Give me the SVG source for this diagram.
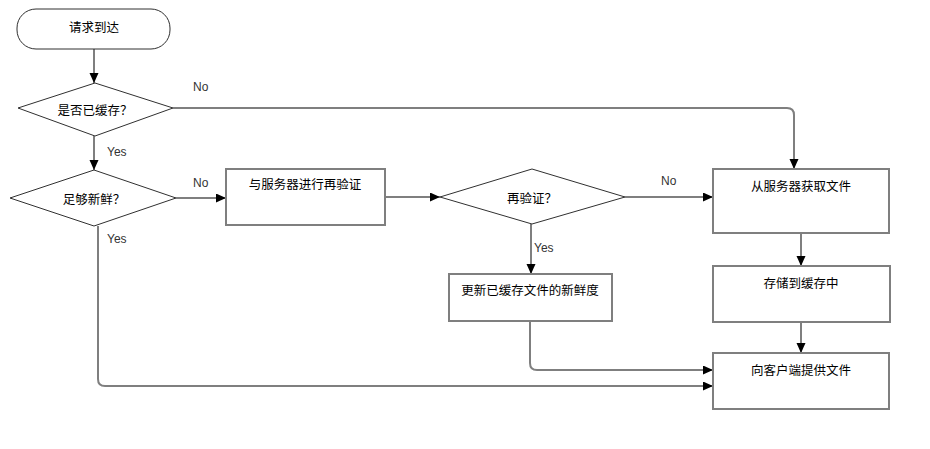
<svg xmlns="http://www.w3.org/2000/svg" width="930" height="449" viewBox="0 0 930 449">
<style>
.box{fill:#fff;stroke:#7f7f7f;stroke-width:2}
.dia{fill:#fff;stroke:#303030;stroke-width:1}
.t{font-family:"Noto Sans CJK SC","Noto Sans CJK TC",sans-serif;font-size:12.5px;fill:#000;text-anchor:middle;dominant-baseline:central}
.lbl{font-family:"Liberation Sans",Arial,sans-serif;font-size:12px;fill:#333}
.c{fill:none;stroke:#7f7f7f;stroke-width:2;marker-end:url(#ah)}
.cn{fill:none;stroke:#7f7f7f;stroke-width:2}
</style>
<defs>
<marker id="ah" markerUnits="userSpaceOnUse" markerWidth="11" markerHeight="10" refX="10" refY="4.5" orient="auto">
<path d="M0,0 L10,4.5 L0,9 z" fill="#000"/>
</marker>
</defs>
<rect width="930" height="449" fill="#fff"/>
<g id="connectors">
<path class="c" d="M94,49 V83"/>
<path class="c" d="M94,136 V170"/>
<path class="c" d="M173,108 H787 Q794,108 794,115 V169"/>
<path class="c" d="M176,198 H226"/>
<path class="c" d="M98,226 V379 Q98,386 105,386 H713"/>
<path class="c" d="M385,197 H440"/>
<path class="c" d="M625,197 H713"/>
<path class="c" d="M531,224 V274"/>
<path class="c" d="M530,321 V363 Q530,370 537,370 H713"/>
<path class="c" d="M801,233 V266"/>
<path class="c" d="M801,322 V353"/>
<text class="lbl" x="193" y="91">No</text>
<text class="lbl" x="107" y="156">Yes</text>
<text class="lbl" x="193" y="187">No</text>
<text class="lbl" x="107" y="243">Yes</text>
<text class="lbl" x="661" y="185">No</text>
<text class="lbl" x="534" y="252">Yes</text>
</g>
<g id="start">
<rect x="17" y="9" width="153" height="40" rx="19" ry="19" fill="#fff" stroke="#303030" stroke-width="1"/>
<text class="t" x="94" y="26">请求到达</text>
</g>
<g id="isCached">
<polygon class="dia" points="95,83 173,108 95,136 18,108"/>
<text class="t" x="95" y="109">是否已缓存？</text>
</g>
<g id="isFresh">
<polygon class="dia" points="94,170 176,198 94,226 10,198"/>
<text class="t" x="94" y="198">足够新鲜？</text>
</g>
<g id="revalidate">
<rect class="box" x="226" y="169" width="159" height="56"/>
<text class="t" x="305" y="183">与服务器进行再验证</text>
</g>
<g id="revalidated">
<polygon class="dia" points="532,169 625,197 532,224 440,197"/>
<text class="t" x="532" y="197">再验证？</text>
</g>
<g id="updateFreshness">
<rect class="box" x="449" y="274" width="163" height="47"/>
<text class="t" x="530" y="289">更新已缓存文件的新鲜度</text>
</g>
<g id="fetch">
<rect class="box" x="713" y="169" width="176" height="64"/>
<text class="t" x="801" y="185">从服务器获取文件</text>
</g>
<g id="store">
<rect class="box" x="713" y="266" width="177" height="56"/>
<text class="t" x="801" y="282">存储到缓存中</text>
</g>
<g id="serve">
<rect class="box" x="713" y="353" width="176" height="56"/>
<text class="t" x="801" y="369">向客户端提供文件</text>
</g>
</svg>
